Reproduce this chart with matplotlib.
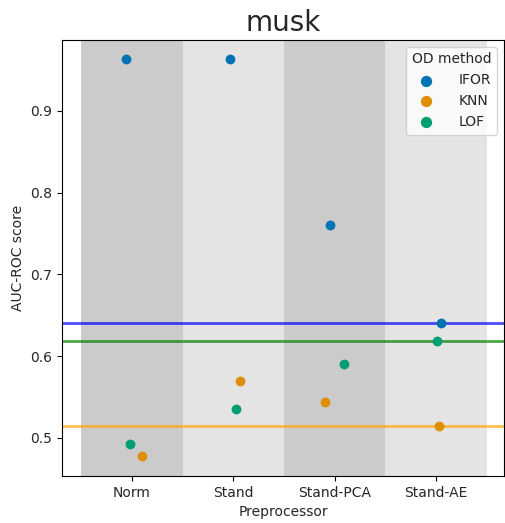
import matplotlib
matplotlib.use('Agg')
import matplotlib.pyplot as plt

# data
preprocessors = ['Norm', 'Stand', 'Stand-PCA', 'Stand-AE']
methods = ['IFOR', 'KNN', 'LOF']
ifor_scores = [0.964, 0.963, 0.760, 0.641]
knn_scores = [0.478, 0.569, 0.544, 0.514]
lof_scores = [0.493, 0.535, 0.590, 0.619]
# jitter used by the strip plot (in category units)
ifor_jitter = [-0.06, -0.03, -0.05, 0.05]
knn_jitter = [0.10, 0.07, -0.10, 0.03]
lof_jitter = [-0.02, 0.03, 0.09, 0.01]
baselines = {'IFOR': 0.641, 'KNN': 0.514, 'LOF': 0.619}

colors = {'IFOR': '#0173B2', 'KNN': '#DE8F05', 'LOF': '#029E73'}
line_colors = {'IFOR': 'blue', 'KNN': 'orange', 'LOF': 'green'}

plt.rcParams['text.color'] = '#262626'
plt.rcParams['axes.labelcolor'] = '#262626'
plt.rcParams['xtick.labelcolor'] = '#262626'
plt.rcParams['ytick.labelcolor'] = '#262626'

fig = plt.figure(figsize=(5.05, 5.23), dpi=100)
ax = fig.add_axes([0.123, 0.09, 0.875, 0.834])

# alternating background bands per preprocessor
for i in range(len(preprocessors)):
    band = '#cbcbcb' if i % 2 == 0 else '#e4e4e4'
    ax.axvspan(i - 0.5, i + 0.5, color=band, zorder=0, lw=0)

series = {'IFOR': (ifor_scores, ifor_jitter),
          'KNN': (knn_scores, knn_jitter),
          'LOF': (lof_scores, lof_jitter)}
for m in methods:
    vals, jit = series[m]
    xs = [i + j for i, j in enumerate(jit)]
    ax.scatter(xs, vals, s=50, color=colors[m], label=m, zorder=3, lw=0)

for m in ['IFOR', 'LOF', 'KNN']:
    ax.axhline(baselines[m], color=line_colors[m], alpha=0.7, lw=2, zorder=2)

ax.set_xticks(range(len(preprocessors)))
ax.set_xticklabels(preprocessors)
ax.set_xlim(-0.69, 3.67)
ax.set_ylim(0.4535, 0.987)
ax.set_yticks([0.5, 0.6, 0.7, 0.8, 0.9])
ax.tick_params(labelsize=10)
ax.set_xlabel('Preprocessor', fontsize=10)
ax.set_ylabel('AUC-ROC score', fontsize=10)
ax.set_title('musk', fontsize=20)
ax.legend(title='OD method', loc='upper right', fontsize=10, title_fontsize=10,
          markerscale=1.15, handletextpad=1.3)

plt.savefig('out.png', dpi=100)
